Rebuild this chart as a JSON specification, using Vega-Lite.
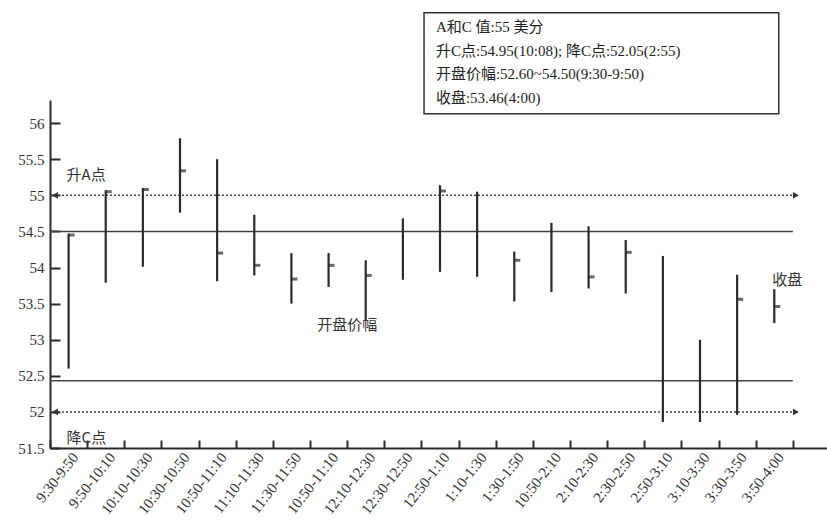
{
  "$schema": "https://vega.github.io/schema/vega-lite/v6.json",
  "width": 780,
  "height": 348,
  "autosize": {"type": "none"},
  "padding": {"left": 50, "top": 100, "right": 0, "bottom": 74},
  "background": "#ffffff",
  "config": {
    "view": {"stroke": null},
    "font": "Liberation Serif",
    "numberFormat": "~g",
    "axis": {"grid": false, "domainColor": "#2b2b2b", "tickColor": "#2b2b2b", "labelColor": "#333333", "labelFont": "Liberation Serif", "title": null, "labelOverlap": false},
    "axisY": {"labelOverlap": false, "labelFontSize": 15, "ticks": true, "tickSize": -10, "tickWidth": 2, "domainWidth": 2, "labelPadding": 16, "tickCount": 10, "labelFlush": false}
  },
  "datasets": {
    "bars": [
      {"period": "9:30-9:50", "low": 52.6, "high": 54.47, "close": 54.45},
      {"period": "9:50-10:10", "low": 53.79, "high": 55.07, "close": 55.05},
      {"period": "10:10-10:30", "low": 54.01, "high": 55.1, "close": 55.08},
      {"period": "10:30-10:50", "low": 54.76, "high": 55.79, "close": 55.34},
      {"period": "10:50-11:10", "low": 53.81, "high": 55.5, "close": 54.2},
      {"period": "11:10-11:30", "low": 53.89, "high": 54.73, "close": 54.03},
      {"period": "11:30-11:50", "low": 53.5, "high": 54.2, "close": 53.84},
      {"period": "10:50-11:10\u200b", "low": 53.73, "high": 54.2, "close": 54.03},
      {"period": "12:10-12:30", "low": 53.27, "high": 54.1, "close": 53.89},
      {"period": "12:30-12:50", "low": 53.83, "high": 54.68, "close": null},
      {"period": "12:50-1:10", "low": 53.94, "high": 55.14, "close": 55.06},
      {"period": "1:10-1:30", "low": 53.87, "high": 55.05, "close": null},
      {"period": "1:30-1:50", "low": 53.53, "high": 54.22, "close": 54.1},
      {"period": "10:50-2:10", "low": 53.66, "high": 54.62, "close": null},
      {"period": "2:10-2:30", "low": 53.71, "high": 54.57, "close": 53.87},
      {"period": "2:30-2:50", "low": 53.64, "high": 54.38, "close": 54.21},
      {"period": "2:50-3:10", "low": 51.86, "high": 54.16, "close": null},
      {"period": "3:10-3:30", "low": 51.86, "high": 53.0, "close": null},
      {"period": "3:30-3:50", "low": 51.96, "high": 53.9, "close": 53.56},
      {"period": "3:50-4:00", "low": 53.23, "high": 53.7, "close": 53.46}
    ],
    "solid": [{"level": 54.5}, {"level": 52.43}],
    "dotted": [{"level": 55}, {"level": 52}],
    "notes": [
      {"text": "升A点", "period": "9:30-9:50", "y": 55.28},
      {"text": "降C点", "period": "9:30-9:50", "y": 51.64},
      {"text": "收盘", "period": "3:50-4:00", "y": 53.83}
    ],
    "notes2": [
      {"text": "开盘价幅", "period": "12:10-12:30", "y": 53.21}
    ],
    "box": [
      {"lines": ["A和C 值:55 美分", "升C点:54.95(10:08); 降C点:52.05(2:55)", "开盘价幅:52.60~54.50(9:30-9:50)", "收盘:53.46(4:00)"]}
    ]
  },
  "encoding": {
    "x": {
      "field": "period",
      "type": "nominal",
      "sort": null,
      "scale": {
        "domain": ["9:30-9:50", "9:50-10:10", "10:10-10:30", "10:30-10:50", "10:50-11:10", "11:10-11:30", "11:30-11:50", "10:50-11:10\u200b", "12:10-12:30", "12:30-12:50", "12:50-1:10", "1:10-1:30", "1:30-1:50", "10:50-2:10", "2:10-2:30", "2:30-2:50", "2:50-3:10", "3:10-3:30", "3:30-3:50", "3:50-4:00", " "],
        "paddingInner": 0,
        "paddingOuter": 0
      },
      "axis": {
        "labelAngle": -52,
        "labelFontSize": 15,
        "labelOffset": 6,
        "labelOverlap": false,
        "tickBand": "extent",
        "tickSize": -8,
        "tickWidth": 2,
        "domainWidth": 2,
        "labelPadding": 14
      }
    }
  },
  "layer": [
    {
      "data": {"name": "solid"},
      "mark": {"type": "rule", "color": "#444444", "strokeWidth": 1.5},
      "encoding": {
        "x": {"datum": "9:30-9:50", "bandPosition": 0},
        "x2": {"datum": " ", "bandPosition": 0},
        "y": {
          "field": "level",
          "type": "quantitative",
          "scale": {"domain": [51.5, 56.32], "nice": false, "zero": false},
          "axis": {
            "values": [51.5, 52, 52.5, 53, 53.5, 54, 54.5, 55, 55.5, 56],
            "format": "~g",
            "labelOverlap": false
          }
        }
      }
    },
    {
      "data": {"name": "dotted"},
      "mark": {"type": "rule", "color": "#444444", "strokeWidth": 1.5, "strokeDash": [2, 2]},
      "encoding": {
        "x": {"datum": "9:30-9:50", "bandPosition": 0},
        "x2": {"datum": " ", "bandPosition": 0},
        "y": {"field": "level", "type": "quantitative"}
      }
    },
    {
      "data": {"name": "dotted"},
      "mark": {"type": "point", "shape": "triangle-right", "filled": true, "color": "#333333", "size": 45, "xOffset": 3, "opacity": 1},
      "encoding": {
        "x": {"datum": " ", "bandPosition": 0},
        "y": {"field": "level", "type": "quantitative"}
      }
    },
    {
      "data": {"name": "dotted"},
      "mark": {"type": "point", "shape": "triangle-left", "filled": true, "color": "#333333", "size": 45, "xOffset": 5, "opacity": 1},
      "encoding": {
        "x": {"datum": "9:30-9:50", "bandPosition": 0},
        "y": {"field": "level", "type": "quantitative"}
      }
    },
    {
      "data": {"name": "bars"},
      "mark": {"type": "rule", "color": "#2a2a2a", "strokeWidth": 2.2},
      "encoding": {
        "y": {"field": "low", "type": "quantitative"},
        "y2": {"field": "high"}
      }
    },
    {
      "data": {"name": "bars"},
      "transform": [{"filter": "datum.close != null"}],
      "mark": {"type": "tick", "color": "#2a2a2a", "size": 6, "thickness": 3, "xOffset": 3},
      "encoding": {
        "y": {"field": "close", "type": "quantitative"}
      }
    },
    {
      "data": {"name": "notes"},
      "mark": {"type": "text", "align": "left", "baseline": "middle", "fontSize": 15, "font": "Noto Sans CJK SC", "color": "#333333", "dx": -2},
      "encoding": {
        "y": {"field": "y", "type": "quantitative"},
        "text": {"field": "text"}
      }
    },
    {
      "data": {"name": "notes2"},
      "mark": {"type": "text", "align": "center", "baseline": "middle", "fontSize": 15, "font": "Noto Sans CJK SC", "color": "#333333"},
      "encoding": {
        "x": {"field": "period", "type": "nominal", "bandPosition": 0},
        "y": {"field": "y", "type": "quantitative"},
        "text": {"field": "text"}
      }
    },
    {
      "data": {"name": "box"},
      "mark": {"type": "rect", "fill": "#ffffff", "stroke": "#333333", "strokeWidth": 1.5},
      "encoding": {
        "x": {"datum": "12:50-1:10", "bandPosition": 0.07},
        "x2": {"datum": "3:50-4:00", "bandPosition": 0.62},
        "y": {"datum": 57.53},
        "y2": {"datum": 56.13}
      }
    },
    {
      "data": {"name": "box"},
      "mark": {"type": "text", "align": "left", "baseline": "middle", "fontSize": 15, "lineHeight": 23.5, "font": "Liberation Serif, Noto Sans CJK SC", "color": "#222222"},
      "encoding": {
        "x": {"datum": "12:50-1:10", "bandPosition": 0.39},
        "y": {"datum": 57.33},
        "text": {"field": "lines"}
      }
    }
  ]
}
